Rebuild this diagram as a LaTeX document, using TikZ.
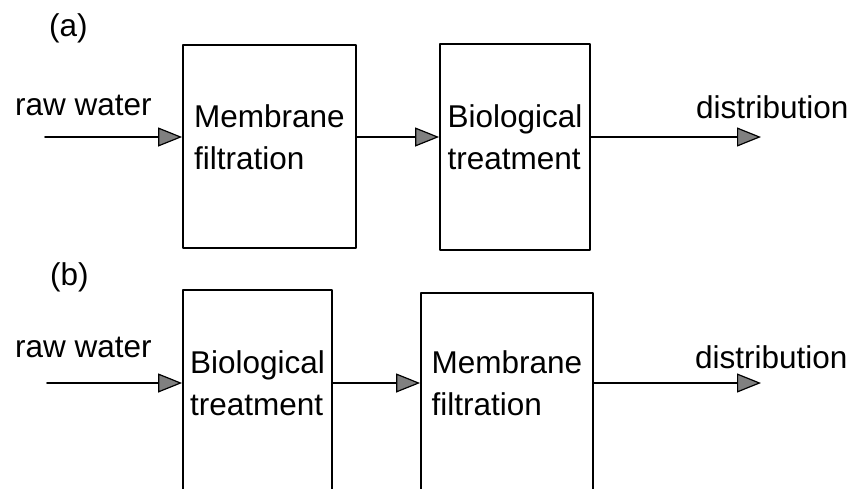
\documentclass[tikz,border=0pt]{standalone}
\usepackage{fontspec}
\setmainfont{Liberation Sans}
\usepackage{tikz}
\usetikzlibrary{arrows.meta}

\begin{document}
\begin{tikzpicture}[font=\fontsize{31.5}{42}\selectfont, line join=round, line cap=round, x=1pt, y=-1pt,
 proc/.style={draw, line width=1.8pt, inner sep=0pt},
 txt/.style={inner sep=0pt, align=left},
 flow/.style={line width=1.8pt, -{Triangle[length=24pt,width=19pt,fill=gray,line width=1.2pt]}}]
 \useasboundingbox (0,0) rectangle (852,488);
 \clip (0,0) rectangle (852,488);
 % (a)
 \node[txt, anchor=base west] (labA) at (49,36) {(a)};
 \coordinate (inA) at (45,137);
 \coordinate (outA) at (761,137);
 \node[proc, minimum width=173pt, minimum height=203pt] (memA) at (269.5,146.5) {};
 \node[proc, minimum width=150pt, minimum height=206pt] (bioA) at (515,147) {};
 \node[txt] (memAt) at (memA |- inA) {Membrane\\filtration};
 \node[txt] (bioAt) at (bioA |- inA) {Biological\\treatment};
 \node[txt, anchor=base west] (rawA) at (15,115) {raw water};
 \node[txt, anchor=base west] (distA) at (696,118) {distribution};
 \draw[flow] (inA) -- (inA -| memA.west);
 \draw[flow] (inA -| memA.east) -- (inA -| bioA.west);
 \draw[flow] (inA -| bioA.east) -- (outA);
 % (b)
 \node[txt, anchor=base west] (labB) at (50,285) {(b)};
 \coordinate (inB) at (47,383);
 \coordinate (outB) at (761,383);
 \node[proc, minimum width=149pt, minimum height=240pt] (bioB) at (257.5,410) {};
 \node[proc, minimum width=172pt, minimum height=240pt] (memB) at (507,413) {};
 \node[txt] (bioBt) at (bioB |- inB) {Biological\\treatment};
 \node[txt] (memBt) at (memB |- inB) {Membrane\\filtration};
 \node[txt, anchor=base west] (rawB) at (15,357) {raw water};
 \node[txt, anchor=base west] (distB) at (695,368) {distribution};
 \draw[flow] (inB) -- (inB -| bioB.west);
 \draw[flow] (inB -| bioB.east) -- (inB -| memB.west);
 \draw[flow] (inB -| memB.east) -- (outB);
\end{tikzpicture}
\end{document}
